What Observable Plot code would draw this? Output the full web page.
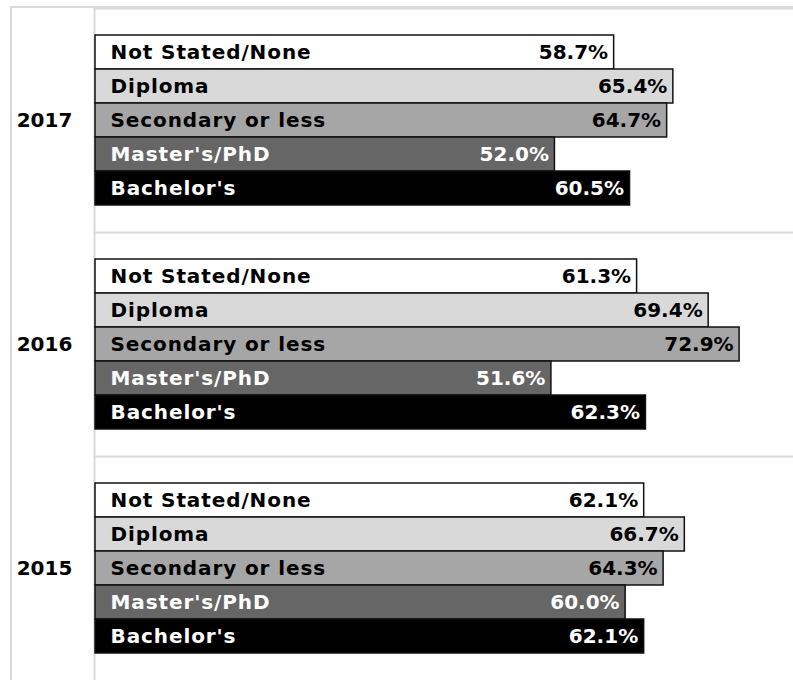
<!DOCTYPE html>
<html>
<head>
<meta charset="utf-8">
<script src="https://cdn.jsdelivr.net/npm/d3@7"></script>
<script src="https://cdn.jsdelivr.net/npm/@observablehq/plot@0.6"></script>
<style>
  html, body { margin: 0; padding: 0; background: #fff; overflow: hidden; }
  #wrap { position: relative; width: 793px; height: 680px; }
  #outer { position: absolute; left: 10px; top: 6px; right: 0; bottom: 0; border-left: 2px solid #d9d9d9; border-top: 2px solid #d9d9d9; }
  #chart { position: absolute; left: 0; top: 0; }
  .cat text { letter-spacing: 0.9px; }
</style>
</head>
<body>
<div id="wrap"><div id="outer"></div><div id="chart"></div></div>
<script>
const years = ["2017", "2016", "2015"];
const categories = ["Not Stated/None", "Diploma", "Secondary or less", "Master's/PhD", "Bachelor's"];
const values2017 = [58.7, 65.4, 64.7, 52.0, 60.5];
const values2016 = [61.3, 69.4, 72.9, 51.6, 62.3];
const values2015 = [62.1, 66.7, 64.3, 60.0, 62.1];
const barColors = ["#ffffff", "#d9d9d9", "#a6a6a6", "#666666", "#000000"];
const labelColors = ["black", "black", "black", "white", "white"];

const seriesByYear = {"2017": values2017, "2016": values2016, "2015": values2015};
const data = years.flatMap(year => categories.map((category, i) => ({
  year, category, value: seriesByYear[year][i], labelColor: labelColors[i]
})));

const font = "DejaVu Sans";
const fs = 20;

function labelMarks(color) {
  const subset = data.filter(d => d.labelColor === color);
  return [
    Plot.text(subset, {fy: "year", y: "category", frameAnchor: "left", dx: 15, text: "category",
      textAnchor: "start", fill: color, fontWeight: "bold", fontSize: fs, className: "cat"}),
    Plot.text(subset, {fy: "year", y: "category", x: "value", dx: -6, text: d => d.value.toFixed(1) + "%",
      textAnchor: "end", fill: color, fontWeight: "bold", fontSize: fs})
  ];
}

const chart = Plot.plot({
  width: 793,
  height: 680,
  marginLeft: 95,
  marginRight: 0,
  marginTop: 7,
  marginBottom: 0,
  style: {fontFamily: font, background: "transparent"},
  x: {domain: [0, 79], axis: null},
  y: {domain: categories, paddingInner: 0, paddingOuter: 0.71, axis: null},
  fy: {domain: years, padding: 0, axis: null},
  color: {domain: categories, range: barColors},
  marks: [
    Plot.frame({anchor: "top", stroke: "#d9d9d9", strokeWidth: 2}),
    Plot.ruleX([0], {stroke: "#d9d9d9", strokeWidth: 2, dx: -1}),
    Plot.barX(data, {fy: "year", y: "category", x: "value", fill: "category",
      stroke: "#111", strokeWidth: 1.5, insetTop: 0, insetBottom: 0}),
    ...labelMarks("black"),
    ...labelMarks("white"),
    Plot.text(years, {fy: d => d, text: d => d, frameAnchor: "left", dx: -51,
      textAnchor: "middle", fill: "black", fontWeight: "bold", fontSize: fs})
  ]
});
document.getElementById("chart").appendChild(chart);
</script>
</body>
</html>
